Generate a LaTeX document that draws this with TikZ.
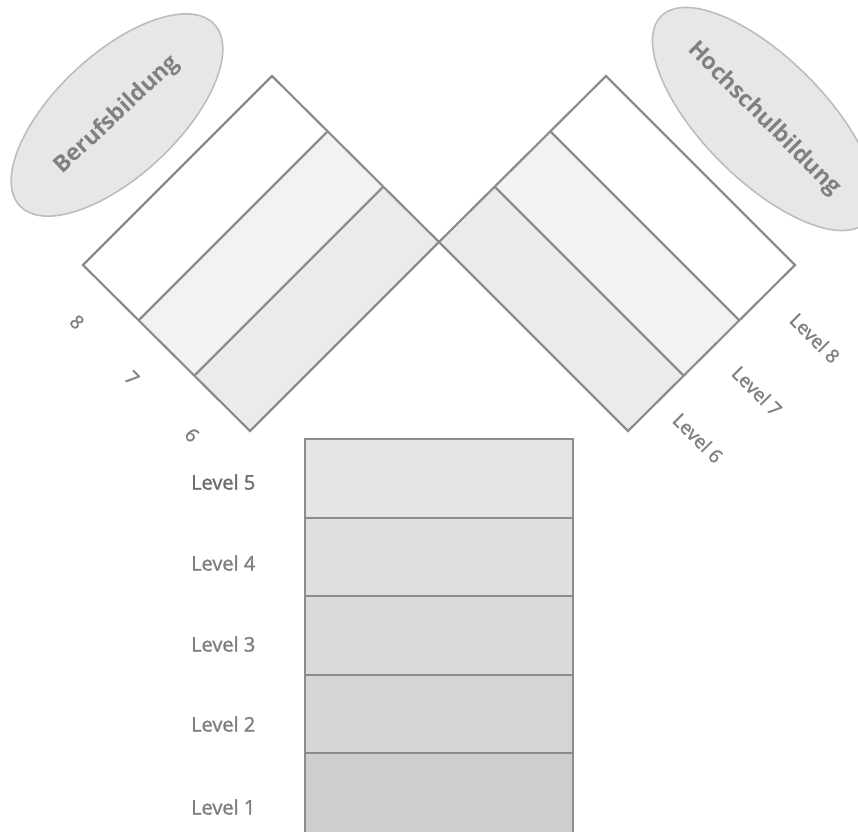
\documentclass[tikz,border=0pt]{standalone}
\usepackage{fontspec}
\setmainfont{Open Sans}
\newfontface\medfont{Open Sans}[FakeBold=1.6]
\usetikzlibrary{shapes.geometric,calc}
\definecolor{edge}{HTML}{8C8C8C}
\definecolor{txt}{HTML}{808080}
\definecolor{ellfill}{HTML}{E7E7E7}
\definecolor{elledge}{HTML}{BDBDBD}
\definecolor{sA}{HTML}{FFFFFF}
\definecolor{sB}{HTML}{F2F2F2}
\definecolor{sC}{HTML}{EBEBEB}
\definecolor{rA}{HTML}{E6E5E4}
\definecolor{rB}{HTML}{E1DFDE}
\definecolor{rC}{HTML}{DCDAD9}
\definecolor{rD}{HTML}{D7D5D4}
\definecolor{rE}{HTML}{D0CECD}
\tikzset{
  strip/.style={draw=edge, line width=2.2pt, line join=miter},
  row/.style={draw=edge, line width=2.6pt},
  oval/.style={ellipse, draw=elledge, line width=1.6pt, fill=ellfill, minimum width=266pt, minimum height=122pt, inner sep=0pt, text=txt, font=\fontsize{23}{23}\selectfont\bfseries},
  lvl/.style={text=txt, font=\medfont\fontsize{20}{22}\selectfont, anchor=west, inner sep=0pt},
  dlvl/.style={text=txt, font=\medfont\fontsize{19}{20}\selectfont, rotate=-45, inner sep=0pt}
}
\begin{document}
\begin{tikzpicture}[x=1pt,y=-1pt]
\useasboundingbox[fill=white] (0,0) rectangle (858,831);
% left block
\coordinate (LT) at (272,76);
\coordinate (LR) at (439,242);
\coordinate (LB) at (250,431);
\coordinate (LL) at (83,265);
\coordinate (LP1) at ($(LT)!1/3!(LR)$);
\coordinate (LP2) at ($(LT)!2/3!(LR)$);
\coordinate (LQ1) at ($(LL)!1/3!(LB)$);
\coordinate (LQ2) at ($(LL)!2/3!(LB)$);
\fill[sA] (LT) -- (LP1) -- (LQ1) -- (LL) -- cycle;
\fill[sB] (LP1) -- (LP2) -- (LQ2) -- (LQ1) -- cycle;
\fill[sC] (LP2) -- (LR) -- (LB) -- (LQ2) -- cycle;
\draw[strip] (LT) -- (LR) -- (LB) -- (LL) -- cycle;
\draw[strip] (LP1) -- (LQ1);
\draw[strip] (LP2) -- (LQ2);
% right block
\coordinate (RT) at (606,76);
\coordinate (RR) at (795,265);
\coordinate (RB) at (628,431);
\coordinate (RL) at (439,242);
\coordinate (RP1) at ($(RT)!1/3!(RL)$);
\coordinate (RP2) at ($(RT)!2/3!(RL)$);
\coordinate (RQ1) at ($(RR)!1/3!(RB)$);
\coordinate (RQ2) at ($(RR)!2/3!(RB)$);
\fill[sA] (RT) -- (RP1) -- (RQ1) -- (RR) -- cycle;
\fill[sB] (RP1) -- (RP2) -- (RQ2) -- (RQ1) -- cycle;
\fill[sC] (RP2) -- (RL) -- (RB) -- (RQ2) -- cycle;
\draw[strip] (RT) -- (RR) -- (RB) -- (RL) -- cycle;
\draw[strip] (RP1) -- (RQ1);
\draw[strip] (RP2) -- (RQ2);
% ellipses
\node[oval, rotate=43] (beruf) at (117,115) {Berufsbildung};
\node[oval, rotate=-45] (hoch) at (764,119) {Hochschulbildung};
% left numbers
\node[dlvl] (n8) at (77,322) {8};
\node[dlvl] (n7) at (132,378) {7};
\node[dlvl] (n6) at (192,435) {6};
% right labels
\node[dlvl] (l8) at (815,338) {Level 8};
\node[dlvl] (l7) at (757,391) {Level 7};
\node[dlvl] (l6) at (698,438) {Level 6};
% bottom stack
\filldraw[row, fill=rA] (305,439) rectangle (573,518);
\filldraw[row, fill=rB] (305,518) rectangle (573,596);
\filldraw[row, fill=rC] (305,596) rectangle (573,675);
\filldraw[row, fill=rD] (305,675) rectangle (573,753);
\filldraw[row, fill=rE] (305,753) rectangle (573,833);
\node[lvl, text=txt!85!black] (v5) at (191,482) {Level 5};
\node[lvl] (v4) at (191,563) {Level 4};
\node[lvl] (v3) at (191,644) {Level 3};
\node[lvl] (v2) at (191,724) {Level 2};
\node[lvl] (v1) at (191,807) {Level 1};
\end{tikzpicture}
\end{document}
